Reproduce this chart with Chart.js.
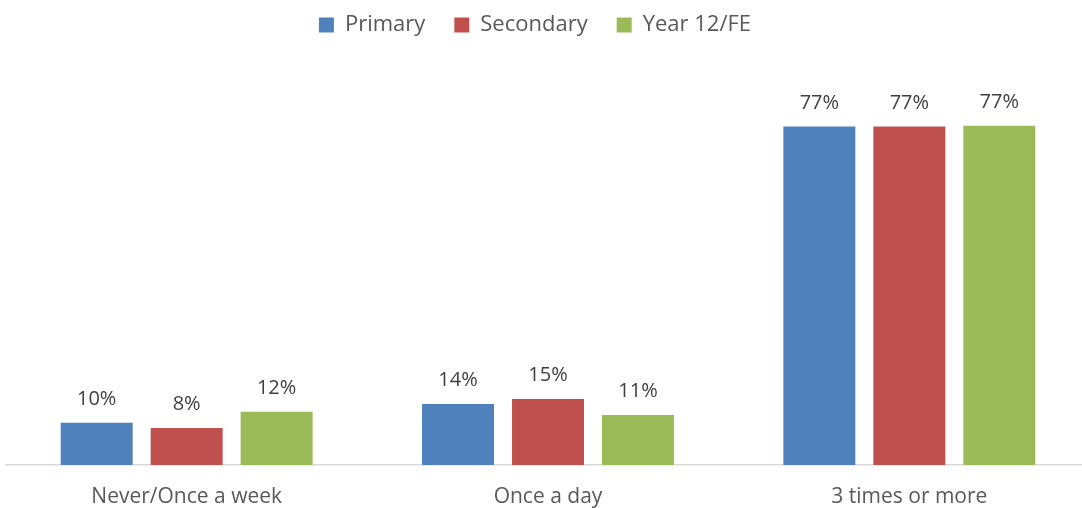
<!DOCTYPE html>
<html>
<head>
<meta charset="utf-8">
<script src="https://cdn.jsdelivr.net/npm/chart.js@4.4.1/dist/chart.umd.min.js"></script>
<style>
  html, body { margin: 0; padding: 0; background: #ffffff; overflow: hidden; }
  #wrap { position: relative; width: 1082px; height: 508px; overflow: hidden; }
</style>
</head>
<body>
<div id="wrap"><canvas id="c" width="1090" height="508"></canvas></div>
<script>
const categories = ['Never/Once a week', 'Once a day', '3 times or more'];
const seriesNames = ['Primary', 'Secondary', 'Year 12/FE'];
const primary = [9.6, 13.9, 77.0];
const secondary = [8.4, 15.0, 77.0];
const year12 = [12.1, 11.4, 77.2];
const seriesColors = ['#4F81BD', '#C0504D', '#9BBB59'];

const FONT = '"Open Sans", Lato, sans-serif';

const dataLabels = {
  id: 'dataLabels',
  afterDatasetsDraw(chart) {
    const ctx = chart.ctx;
    ctx.save();
    ctx.font = '20px ' + FONT;
    ctx.fillStyle = '#404040';
    ctx.textAlign = 'center';
    ctx.textBaseline = 'alphabetic';
    chart.data.datasets.forEach((ds, i) => {
      const meta = chart.getDatasetMeta(i);
      meta.data.forEach((el, j) => {
        ctx.fillText(Math.round(ds.data[j]) + '%', el.x, el.y - 18);
      });
    });
    ctx.restore();
  }
};

const legendFit = {
  id: 'legendFit',
  beforeInit(chart) {
    const orig = chart.legend.fit;
    chart.legend.fit = function () {
      orig.bind(chart.legend)();
      this.height = 80;
    };
  },
  afterLayout(chart) {
    chart.legend.left -= 13;
    chart.legend.right -= 13;
  }
};

new Chart(document.getElementById('c'), {
  type: 'bar',
  data: {
    labels: categories,
    datasets: [
      { label: seriesNames[0], data: primary, backgroundColor: seriesColors[0] },
      { label: seriesNames[1], data: secondary, backgroundColor: seriesColors[1] },
      { label: seriesNames[2], data: year12, backgroundColor: seriesColors[2] }
    ]
  },
  options: {
    responsive: false,
    animation: false,
    layout: { padding: { left: 6, right: 0, top: -15, bottom: 0 } },
    datasets: { bar: { barPercentage: 0.8, categoryPercentage: 0.747 } },
    plugins: {
      legend: {
        position: 'top',
        labels: {
          boxWidth: 15, boxHeight: 15, padding: 29,
          color: '#595959',
          font: { family: FONT, size: 22 }
        }
      },
      tooltip: { enabled: false },
      title: { display: false }
    },
    scales: {
      x: {
        grid: { display: false, drawTicks: false },
        border: { display: true, color: '#D9D9D9', width: 1.5 },
        ticks: { color: '#595959', font: { family: FONT, size: 21 }, padding: 19 },
        afterFit(scale) { scale.height = 43; }
      },
      y: {
        display: false,
        min: 0,
        max: 91
      }
    }
  },
  plugins: [dataLabels, legendFit]
});
</script>
</body>
</html>
